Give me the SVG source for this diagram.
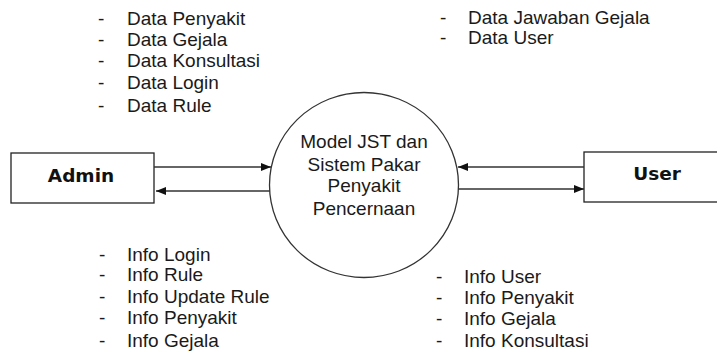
<svg xmlns="http://www.w3.org/2000/svg" width="717" height="354" viewBox="0 0 717 354">
<defs>
<style>
.lbl{font-family:"Liberation Sans",Arial,sans-serif;font-size:19px;fill:#1a1a1a}
.ent{font-family:"DejaVu Sans",Verdana,sans-serif;font-size:18.5px;font-weight:bold;fill:#111}
.box{fill:#fff;stroke:#222;stroke-width:1.3}
.flow{stroke:#333;stroke-width:1.5;fill:none}
</style>
<marker id="ah" viewBox="0 0 10 8" refX="10" refY="4" markerWidth="10" markerHeight="8" markerUnits="userSpaceOnUse" orient="auto">
<path d="M0,0 L10,4 L0,8 Z" fill="#111"/>
</marker>
</defs>
<rect width="717" height="354" fill="#fff"/>
<g id="admin">
<rect class="box" x="11" y="153" width="143" height="50"/>
<text class="ent" x="81" y="182" text-anchor="middle">Admin</text>
</g>
<g id="user">
<rect class="box" x="584" y="152" width="140" height="50"/>
<text class="ent" x="657" y="180" text-anchor="middle">User</text>
</g>
<g id="process">
<ellipse cx="364" cy="185" rx="94.5" ry="92.5" fill="#fff" stroke="#333" stroke-width="1.3"/>
<text class="lbl" x="364" text-anchor="middle"><tspan x="364" y="148">Model JST dan</tspan><tspan x="364" y="171">Sistem Pakar</tspan><tspan x="364" y="192">Penyakit</tspan><tspan x="364" y="215">Pencernaan</tspan></text>
</g>
<g id="connectors">
<line class="flow" x1="154" y1="167" x2="271" y2="167" marker-end="url(#ah)"/>
<line class="flow" x1="270" y1="191" x2="156" y2="191" marker-end="url(#ah)"/>
<line class="flow" x1="584" y1="167" x2="458" y2="167" marker-end="url(#ah)"/>
<line class="flow" x1="458" y1="189" x2="584" y2="189" marker-end="url(#ah)"/>
</g>
<g id="labels-admin-in">
<text class="lbl" x="98" y="25">-</text><text class="lbl" x="127" y="25">Data Penyakit</text>
<text class="lbl" x="98" y="46">-</text><text class="lbl" x="127" y="46">Data Gejala</text>
<text class="lbl" x="98" y="67">-</text><text class="lbl" x="127" y="67">Data Konsultasi</text>
<text class="lbl" x="98" y="89">-</text><text class="lbl" x="127" y="89">Data Login</text>
<text class="lbl" x="98" y="112">-</text><text class="lbl" x="127" y="112">Data Rule</text>
</g>
<g id="labels-user-in">
<text class="lbl" x="440" y="24">-</text><text class="lbl" x="468" y="24">Data Jawaban Gejala</text>
<text class="lbl" x="440" y="44">-</text><text class="lbl" x="468" y="44">Data User</text>
</g>
<g id="labels-admin-out">
<text class="lbl" x="99" y="261">-</text><text class="lbl" x="127" y="261">Info Login</text>
<text class="lbl" x="99" y="281">-</text><text class="lbl" x="127" y="281">Info Rule</text>
<text class="lbl" x="99" y="303">-</text><text class="lbl" x="127" y="303">Info Update Rule</text>
<text class="lbl" x="99" y="324">-</text><text class="lbl" x="127" y="324">Info Penyakit</text>
<text class="lbl" x="99" y="347">-</text><text class="lbl" x="127" y="347">Info Gejala</text>
</g>
<g id="labels-user-out">
<text class="lbl" x="436" y="283">-</text><text class="lbl" x="464" y="283">Info User</text>
<text class="lbl" x="436" y="304">-</text><text class="lbl" x="464" y="304">Info Penyakit</text>
<text class="lbl" x="436" y="325">-</text><text class="lbl" x="464" y="325">Info Gejala</text>
<text class="lbl" x="436" y="347">-</text><text class="lbl" x="464" y="347">Info Konsultasi</text>
</g>
</svg>
